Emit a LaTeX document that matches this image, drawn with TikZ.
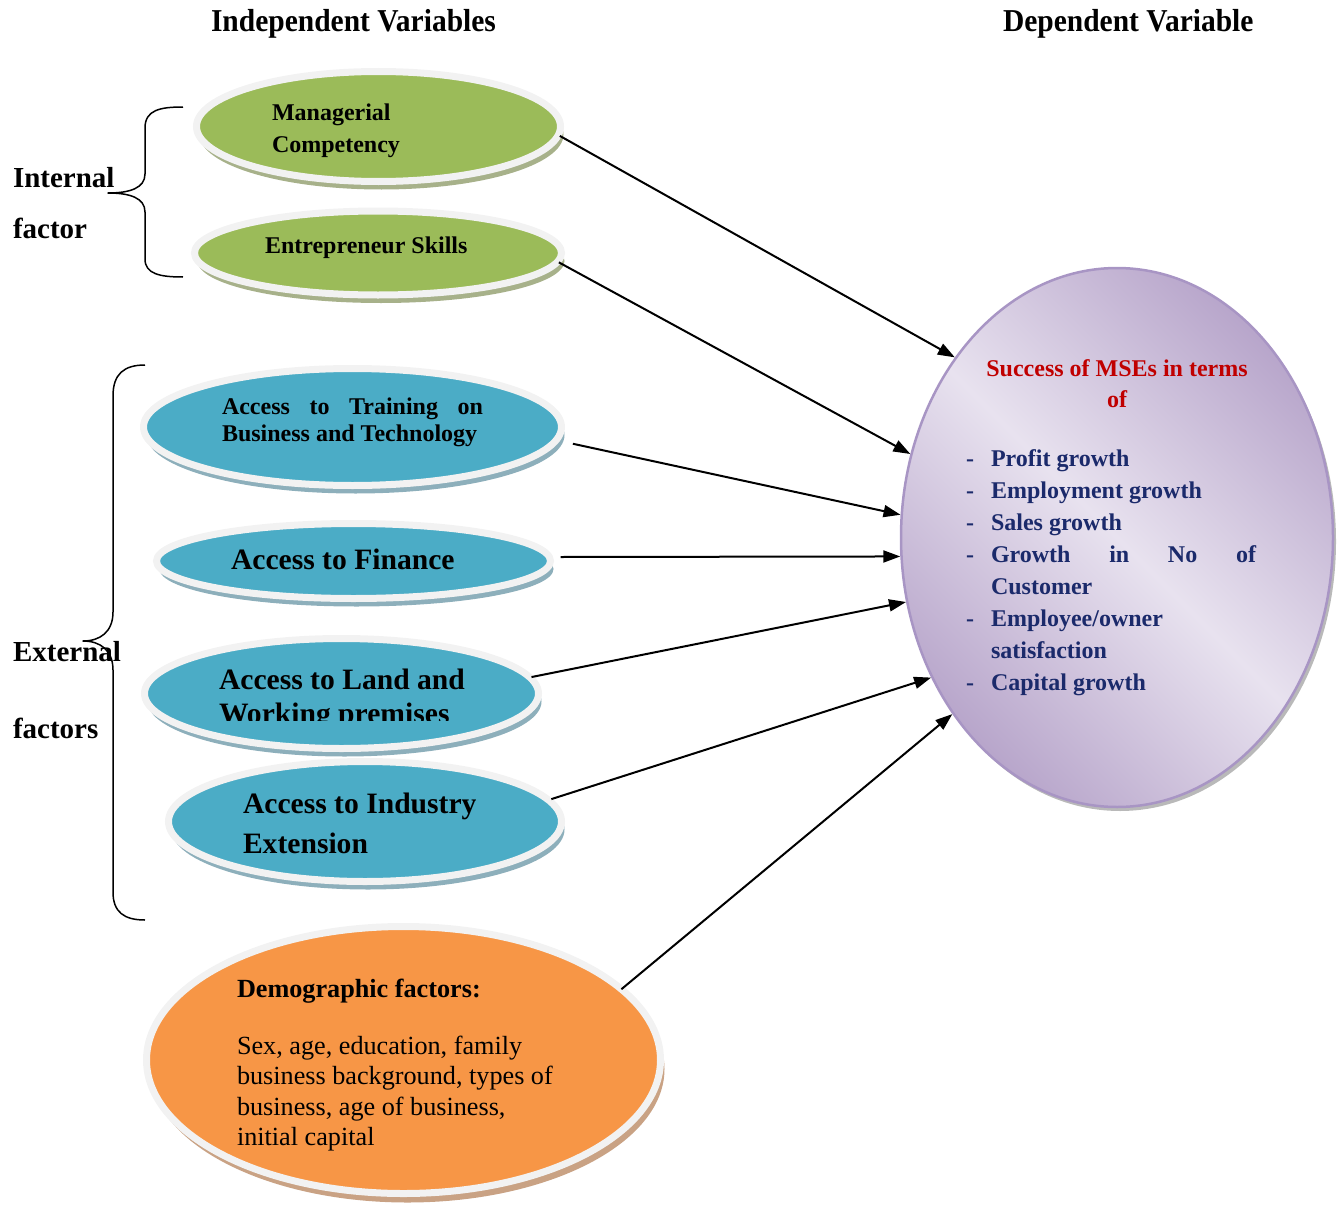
\documentclass[tikz,border=0pt]{standalone}
\usepackage{fontspec}
\setmainfont{Liberation Serif}
\usetikzlibrary{shapes.geometric,arrows.meta,shadows}
\definecolor{grn}{HTML}{9BBB59}
\definecolor{blu}{HTML}{4BACC6}
\definecolor{org}{HTML}{F79646}
\definecolor{rim}{HTML}{F2F2F2}
\definecolor{shgrn}{HTML}{A7B18A}
\definecolor{shblu}{HTML}{8DAFBB}
\definecolor{shorg}{HTML}{C9A284}
\definecolor{pdark}{HTML}{B8A6CB}
\definecolor{plight}{HTML}{E8E2EF}
\definecolor{pline}{HTML}{A895C4}
\definecolor{mred}{HTML}{C00000}
\definecolor{navy}{HTML}{1B2A6B}
\newcommand{\fsz}[1]{\fontsize{#1}{#1}\selectfont}
\begin{document}
\begin{tikzpicture}[x=1pt,y=-1pt,
  oval/.style={ellipse, draw=rim, line width=7pt, inner sep=0pt, outer sep=0pt},
  grnoval/.style={oval, fill=grn, drop shadow={shadow xshift=3pt, shadow yshift=-8pt, fill=shgrn, opacity=1}},
  bluoval/.style={oval, fill=blu, drop shadow={shadow xshift=3pt, shadow yshift=-8pt, fill=shblu, opacity=1}},
  orgoval/.style={oval, fill=org, drop shadow={shadow xshift=4pt, shadow yshift=-9pt, fill=shorg, opacity=1}},
  lbl/.style={anchor=base west, inner sep=0pt, outer sep=0pt},
  clbl/.style={anchor=base, inner sep=0pt, outer sep=0pt},
  arr/.style={line width=2pt, -{Triangle[length=17pt,width=12pt]}},
  bracepath/.style={line width=1.5pt, line join=round}]
\useasboundingbox (0,0) rectangle (1339,1207);

% headers
\node[lbl] (hind) at (211,32) {\scalebox{1}[1.08]{\fsz{29.5}\bfseries Independent Variables}};
\node[lbl] (hdep) at (1003,32) {\scalebox{1}[1.08]{\fsz{29.5}\bfseries Dependent Variable}};

% ellipses
\node[grnoval, minimum width=364pt, minimum height=110pt] (mc) at (378.5,126.5) {};
\node[grnoval, minimum width=367pt, minimum height=84pt] (es) at (378,253) {};
\node[bluoval, minimum width=418pt, minimum height=117pt] (tr) at (352.5,427) {};
\node[bluoval, minimum width=394pt, minimum height=75pt] (fi) at (353.5,561) {};
\node[bluoval, minimum width=394pt, minimum height=110pt] (la) at (341.5,693.5) {};
\node[bluoval, minimum width=393pt, minimum height=120pt] (in) at (365,821.5) {};
\node[orgoval, minimum width=514pt, minimum height=267pt] (dm) at (403.5,1060) {};
\node[ellipse, draw=pline, line width=2.5pt, minimum width=432pt, minimum height=539pt,
      top color=pdark, bottom color=pdark, middle color=plight, shading angle=-45,
      drop shadow={shadow xshift=3pt, shadow yshift=-4pt, fill=gray!55, opacity=1}] (dep) at (1117,537.5) {};

% ellipse texts
\node[lbl] (t1a) at (272,120) {\fsz{24}\bfseries Managerial};
\node[lbl] (t1b) at (272,152) {\fsz{24}\bfseries Competency};
\node[lbl] (t2) at (265,253) {\fsz{24}\bfseries Entrepreneur Skills};
\node[lbl] (t3a) at (222,414) {\fsz{24}\bfseries\makebox[261pt][s]{Access to Training on}};
\node[lbl] (t3b) at (222,441) {\fsz{24}\bfseries Business and Technology};
\node[lbl] (t4) at (231,569) {\fsz{29.6}\bfseries Access to Finance};
\node[lbl] (t5a) at (219,689) {\fsz{29.6}\bfseries Access to Land and};
\begin{scope}
\clip (150,690) rectangle (540,720);
\node[lbl] (t5b) at (219,723) {\fsz{29.6}\bfseries Working premises};
\end{scope}
\node[lbl] (t6a) at (243,813) {\fsz{29.6}\bfseries Access to Industry};
\node[lbl] (t6b) at (243,853) {\fsz{29.6}\bfseries Extension};
\node[lbl] (t7a) at (237,997) {\fsz{26.2}\bfseries Demographic factors:};
\node[lbl] (t7b) at (237,1054) {\fsz{26.2}Sex, age, education, family};
\node[lbl] (t7c) at (237,1084.5) {\fsz{26.2}business background, types of};
\node[lbl] (t7d) at (237,1115) {\fsz{26.2}business, age of business,};
\node[lbl] (t7e) at (237,1145.5) {\fsz{26.2}initial capital};

% dependent texts
\node[clbl, text=mred] (d0a) at (1117,376) {\fsz{24}\bfseries Success of MSEs in terms};
\node[clbl, text=mred] (d0b) at (1117,407) {\fsz{24}\bfseries of};
\foreach \nm/\yy/\dsh/\txt in {d1/466/1/Profit growth, d2/498/1/Employment growth, d3/530/1/Sales growth,
    d5/594/0/Customer, d7/658/0/satisfaction, d8/690/1/Capital growth}{
  \node[lbl, text=navy] (\nm) at (991,\yy) {\fsz{24}\bfseries \txt};
  \ifnum\dsh=1 \node[lbl, text=navy] (\nm m) at (966,\yy) {\fsz{24}\bfseries -}; \fi
}
\node[lbl, text=navy] (d4) at (991,562) {\fsz{24}\bfseries\makebox[265pt][s]{Growth in No of}};
\node[lbl, text=navy] (d4m) at (966,562) {\fsz{24}\bfseries -};
\node[lbl, text=navy] (d6) at (991,626) {\fsz{24}\bfseries Employee/owner};
\node[lbl, text=navy] (d6m) at (966,626) {\fsz{24}\bfseries -};

% side labels
\node[lbl] (int1) at (13,187) {\fsz{29}\bfseries Internal};
\node[lbl] (int2) at (13,238) {\fsz{29}\bfseries factor};
\node[lbl] (ext1) at (13,661) {\fsz{29}\bfseries External};
\node[lbl] (ext2) at (13,738) {\fsz{29}\bfseries factors};

% braces
\draw[bracepath] (183,107) .. controls (160,107) and (145,110) .. (145,128) -- (145,174)
  .. controls (145,188) and (130,193) .. (108,193)
  .. controls (130,193) and (145,198) .. (145,212) -- (145,259)
  .. controls (145,274) and (160,277) .. (183,277);
\draw[bracepath] (145,365) .. controls (124,365) and (113,374) .. (113,396) -- (113,612)
  .. controls (113,632) and (100,641) .. (83,641)
  .. controls (100,641) and (113,650) .. (113,670) -- (113,892)
  .. controls (113,912) and (124,920) .. (145,920);

% arrows
\draw[arr] ([xshift=2pt]mc.-3) -- (dep.132);
\draw[arr] ([xshift=2pt]es.-3) -- (dep.158);
\draw[arr] ([shift={(15pt,-6pt)}]tr.-3) -- (dep.174);
\draw[arr] ([shift={(10pt,4pt)}]fi.east) -- (dep.185);
\draw[arr] ([xshift=2pt]la.5) -- (dep.197);
\draw[arr] ([xshift=4pt]in.7) -- (dep.217);
\draw[arr] (dm.18) -- (dep.227);
\end{tikzpicture}
\end{document}
